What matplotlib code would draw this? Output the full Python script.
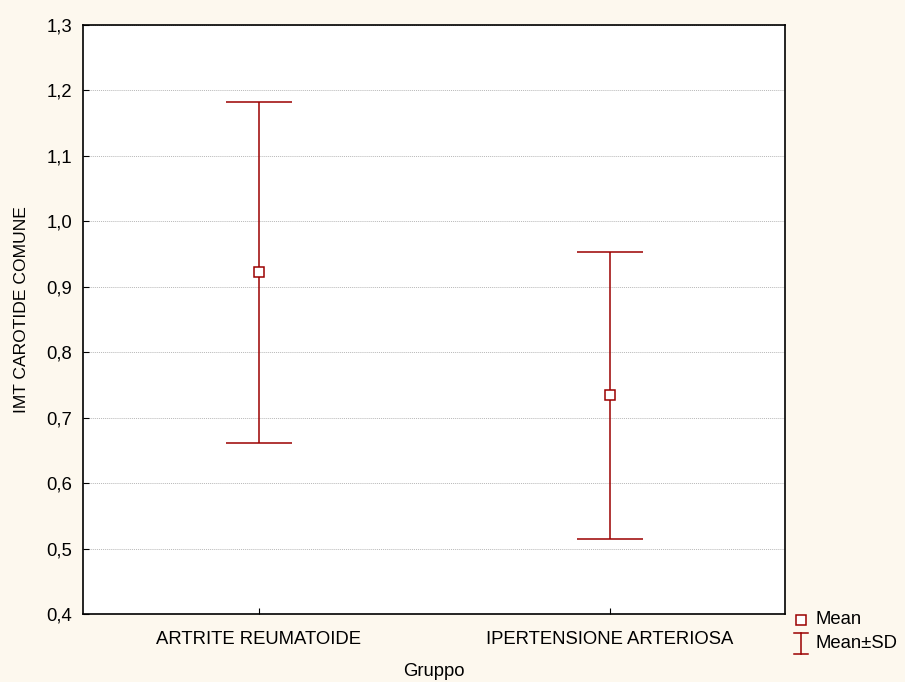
import matplotlib
matplotlib.use("Agg")
import matplotlib.pyplot as plt
from matplotlib.ticker import FuncFormatter
from matplotlib.lines import Line2D

categories = ["ARTRITE REUMATOIDE", "IPERTENSIONE ARTERIOSA"]
means = [0.922, 0.734]
sds = [0.260, 0.219]
yticks = [0.4, 0.5, 0.6, 0.7, 0.8, 0.9, 1.0, 1.1, 1.2, 1.3]

plt.rcParams['font.family'] = ['Liberation Sans', 'DejaVu Sans']
bg = '#FDF8EE'
red = '#9B0000'
fs = 13.3
W, H = 905, 682

fig = plt.figure(figsize=(9.05, 6.82), dpi=100, facecolor=bg)
ax = fig.add_axes([83/W, 1-614/H, (785-83)/W, (614-25)/H])
ax.set_facecolor('white')

x = list(range(len(categories)))
ax.errorbar(x, means, yerr=sds, fmt='none', ecolor=red, elinewidth=1.1,
            capsize=24, capthick=1.1, zorder=3)
ax.plot(x, means, linestyle='none', marker='s', markersize=7, markerfacecolor='white',
        markeredgecolor=red, markeredgewidth=1.1, zorder=4)

ax.set_xlim(-0.5, 1.5)
ax.set_ylim(0.4, 1.3)
ax.set_xticks(x)
ax.set_xticklabels(categories)
ax.set_yticks(yticks)
ax.yaxis.set_major_formatter(FuncFormatter(lambda v, p: f"{v:.1f}".replace('.', ',')))
ax.tick_params(direction='in', labelsize=fs, color='black', length=4)
ax.tick_params(axis='x', pad=12)
ax.tick_params(axis='y', pad=8)
ax.grid(axis='y', linestyle=(0, (1, 1)), color='#b8b8b8', linewidth=0.7)
ax.set_axisbelow(True)
for s in ax.spines.values():
    s.set_linewidth(1.2)
ax.set_xlabel("Gruppo", fontsize=fs, labelpad=11)

def fx(px):
    return px / W
def fy(py):
    return 1 - py / H

fig.text(fx(22), fy(310), "IMT CAROTIDE COMUNE", fontsize=12.6, rotation=90,
         ha='center', va='center')

# legend drawn manually (figure pixel coords)
fig.add_artist(Line2D([fx(801)], [fy(620)], linestyle='none', marker='s', markersize=7,
                      markerfacecolor='white', markeredgecolor=red, markeredgewidth=1.1))
fig.add_artist(Line2D([fx(801), fx(801)], [fy(633), fy(654)], color=red, linewidth=1.1))
fig.add_artist(Line2D([fx(794), fx(808)], [fy(633), fy(633)], color=red, linewidth=1.1))
fig.add_artist(Line2D([fx(794), fx(808)], [fy(654), fy(654)], color=red, linewidth=1.1))
fig.text(fx(815), fy(620), "Mean", fontsize=fs, va='center', ha='left')
fig.text(fx(815), fy(644), "Mean±SD", fontsize=fs, va='center', ha='left')

fig.savefig("out.png", dpi=100, facecolor=bg)
